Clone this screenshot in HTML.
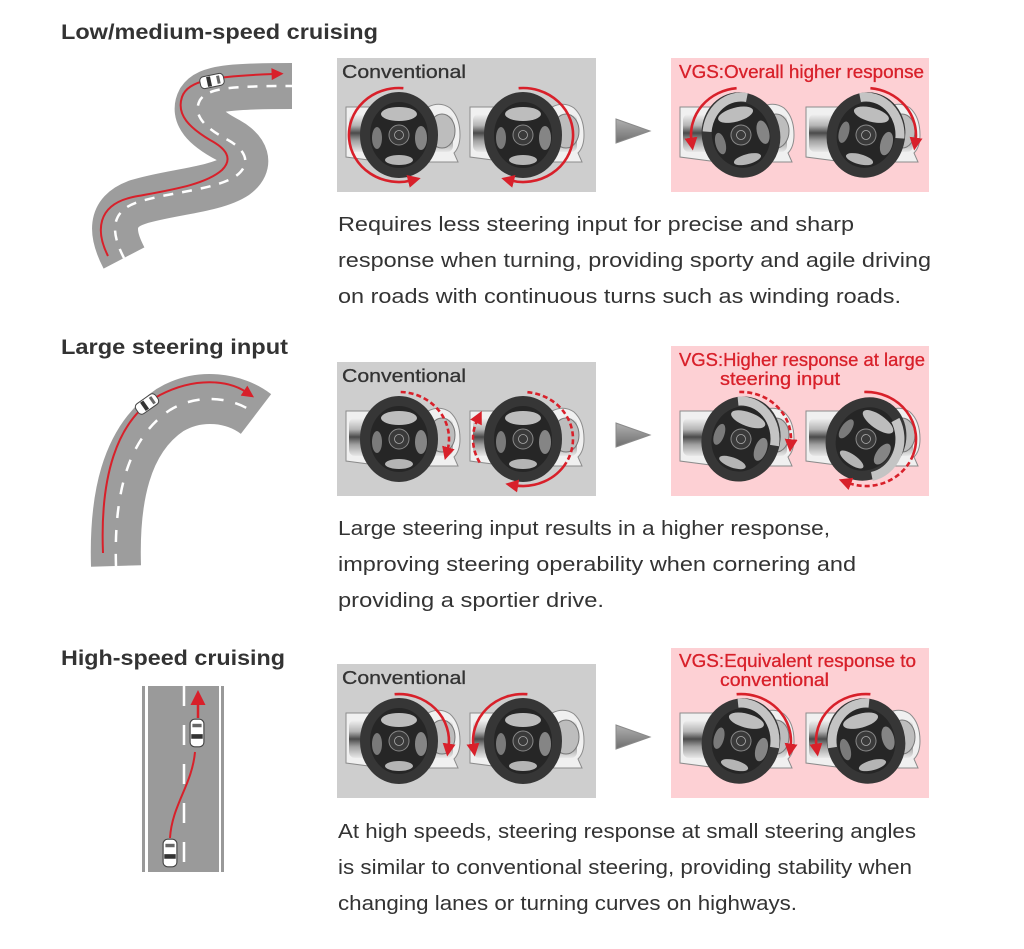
<!DOCTYPE html>
<html><head><meta charset="utf-8"><style>
html,body{margin:0;padding:0;background:#fff;}
svg{display:block;}
.t{font-family:"Liberation Sans",Arial,sans-serif;font-size:20px;fill:#333;}
.h{font-family:"Liberation Sans",Arial,sans-serif;font-size:21px;font-weight:bold;fill:#333;}
.l{font-family:"Liberation Sans",Arial,sans-serif;font-size:18px;fill:#333;stroke:#333;stroke-width:0.3;}
.r{font-family:"Liberation Sans",Arial,sans-serif;font-size:18px;fill:#d8202a;stroke:#d8202a;stroke-width:0.3;}
.ra{fill:none;stroke:#d8202a;stroke-width:2.6;marker-end:url(#ah);}
.rd{fill:none;stroke:#d8202a;stroke-width:2.6;stroke-dasharray:5 3;}
.gh{fill:none;stroke:#c4c4c4;stroke-width:9;}
</style></head><body>
<svg width="1024" height="949" viewBox="0 0 1024 949" xmlns="http://www.w3.org/2000/svg">
<defs>
<marker id="ah" viewBox="0 0 10 10" refX="3" refY="5" markerWidth="5" markerHeight="5" orient="auto" markerUnits="strokeWidth"><path d="M0,0 L10,5 L0,10 z" fill="#d8202a"/></marker>
<marker id="ah2" viewBox="0 0 10 10" refX="2" refY="5" markerWidth="7" markerHeight="6" orient="auto" markerUnits="strokeWidth"><path d="M0,0 L10,5 L0,10 z" fill="#d8202a"/></marker>
<linearGradient id="dg" x1="0" y1="0" x2="0" y2="1">
<stop offset="0" stop-color="#f2f2f2"/><stop offset="0.3" stop-color="#b5b5b5"/><stop offset="0.5" stop-color="#4a4a4a"/><stop offset="0.7" stop-color="#a0a0a0"/><stop offset="1" stop-color="#e8e8e8"/>
</linearGradient>
<linearGradient id="tg" x1="0" y1="0" x2="0" y2="1"><stop offset="0" stop-color="#b0b0b0"/><stop offset="1" stop-color="#6e6e6e"/></linearGradient>
<g id="dash">
<path d="M2 2 H84 Q96 -4 106 3 Q116 12 116 30 Q116 42 110 48 L114 57 H40 L2 52 Z" fill="#f0f0f0" stroke="#8c8c8c" stroke-width="1"/>
<rect x="5" y="9" width="104" height="38" rx="6" fill="url(#dg)"/>
<ellipse cx="98" cy="26" rx="13" ry="17" fill="#bdbdbd" stroke="#777" stroke-width="1"/>
</g>
<g id="wh">
<ellipse rx="31" ry="35" fill="#262626"/>
<ellipse cy="-21" rx="18" ry="7" fill="#bdbdbd"/>
<ellipse cx="-22" cy="3" rx="5" ry="11" fill="#7a7a7a"/>
<ellipse cx="22" cy="3" rx="6" ry="12" fill="#858585"/>
<ellipse cy="25" rx="14" ry="5" fill="#b5b5b5"/>
<circle r="10" fill="#3a3a3a" stroke="#888" stroke-width="1"/>
<circle r="4.5" fill="none" stroke="#aaa" stroke-width="0.8"/>
<ellipse rx="34" ry="38" fill="none" stroke="#363636" stroke-width="10"/>
</g>
<g id="car">
<rect x="-12" y="-6" width="24" height="12" rx="4" fill="#fff" stroke="#444" stroke-width="1"/>
<rect x="-5" y="-5" width="4" height="10" fill="#333"/>
<rect x="5" y="-4" width="3" height="8" fill="#666"/>
</g>
</defs>

<!-- Titles -->
<text class="h" x="61" y="39" textLength="317" lengthAdjust="spacingAndGlyphs">Low/medium-speed cruising</text>
<text class="h" x="61" y="354" textLength="227" lengthAdjust="spacingAndGlyphs">Large steering input</text>
<text class="h" x="61" y="665" textLength="224" lengthAdjust="spacingAndGlyphs">High-speed cruising</text>

<!-- Road 1 -->
<path d="M 124 258 C 112 235, 108 212, 138 202 C 170 192, 215 190, 236 176 C 252 164, 246 150, 228 140 C 205 128, 192 115, 200 100 C 208 88, 230 86, 292 86" fill="none" stroke="#9d9d9d" stroke-width="46"/>
<path d="M 124 258 C 112 235, 108 212, 138 202 C 170 192, 215 190, 236 176 C 252 164, 246 150, 228 140 C 205 128, 192 115, 200 100 C 208 88, 230 86, 292 86" fill="none" stroke="#fff" stroke-width="2.5" stroke-dasharray="10 9"/>
<path d="M 108 256 C 96 232, 96 205, 133 197 C 170 190, 205 185, 222 170 C 234 158, 225 148, 210 140 C 190 128, 176 115, 182 97 C 188 80, 215 76, 274 74" fill="none" stroke="#d8202a" stroke-width="2" marker-end="url(#ah2)"/>
<use href="#car" transform="translate(212 81) rotate(-12)"/>

<!-- Road 2 -->
<path d="M 116 566 C 114 500, 125 440, 170 410 C 200 392, 235 398, 256 414" fill="none" stroke="#9d9d9d" stroke-width="50"/>
<path d="M 116 566 C 114 500, 125 440, 170 410 C 200 392, 235 398, 256 414" fill="none" stroke="#fff" stroke-width="2.5" stroke-dasharray="12 12"/>
<path d="M 103 553 C 100 480, 115 420, 160 395 C 195 377, 228 380, 246 392" fill="none" stroke="#d8202a" stroke-width="2" marker-end="url(#ah2)"/>
<use href="#car" transform="translate(147 404) rotate(-35)"/>

<!-- Road 3 -->
<rect x="142" y="686" width="3" height="186" fill="#999"/>
<rect x="148" y="686" width="71" height="186" fill="#9a9a9a"/>
<rect x="221" y="686" width="3" height="186" fill="#999"/>
<line x1="184" y1="686" x2="184" y2="872" stroke="#fff" stroke-width="2.5" stroke-dasharray="20 19"/>
<path d="M 170 838 C 172 805, 192 785, 195 752" fill="none" stroke="#d8202a" stroke-width="2"/>
<line x1="198" y1="718" x2="198" y2="702" stroke="#d8202a" stroke-width="2.5" marker-end="url(#ah2)"/>
<use href="#car" transform="translate(197 733) rotate(-90) scale(1.15)"/>
<use href="#car" transform="translate(170 853) rotate(-90) scale(1.15)"/>

<!-- Row 1 -->
<rect x="337" y="58" width="259" height="134" fill="#cecece"/>
<rect x="671" y="58" width="258" height="134" fill="#fdd0d4"/>
<text class="l" x="342" y="78" textLength="124" lengthAdjust="spacingAndGlyphs">Conventional</text>
<text class="r" x="679" y="78" textLength="245" lengthAdjust="spacingAndGlyphs">VGS:Overall higher response</text>
<use href="#dash" x="344" y="105"/><use href="#dash" x="468" y="105"/>
<use href="#dash" x="678" y="105"/><use href="#dash" x="804" y="105"/>
<use href="#wh" x="399" y="135"/><use href="#wh" x="523" y="135"/>
<use href="#wh" transform="translate(741 135) rotate(-15)"/><use href="#wh" transform="translate(866 135) rotate(15)"/>
<path class="gh" d="M 707.1 131.7 A 34 38 0 0 1 746.9 97.6"/>
<path class="gh" d="M 860.1 97.6 A 34 38 0 0 1 899.9 138.3"/>
<path class="ra" d="M 403.4 88.2 A 50 47 0 1 0 411.9 180.4"/>
<path class="ra" d="M 518.6 88.2 A 50 47 0 1 1 510.1 180.4"/>
<path class="ra" d="M 736.6 88.2 A 50 47 0 0 0 691.5 141.5"/>
<path class="ra" d="M 870.4 88.2 A 50 47 0 0 1 915.5 141.5"/>
<polygon points="616,119 650,131 616,143" fill="url(#tg)" stroke="#8a8a8a" stroke-width="1"/>
<text class="t" x="338" y="231" textLength="516" lengthAdjust="spacingAndGlyphs">Requires less steering input for precise and sharp</text>
<text class="t" x="338" y="267" textLength="593" lengthAdjust="spacingAndGlyphs">response when turning, providing sporty and agile driving</text>
<text class="t" x="338" y="303" textLength="563" lengthAdjust="spacingAndGlyphs">on roads with continuous turns such as winding roads.</text>

<!-- Row 2 -->
<rect x="337" y="362" width="259" height="134" fill="#cecece"/>
<rect x="671" y="346" width="258" height="150" fill="#fdd0d4"/>
<text class="l" x="342" y="382" textLength="124" lengthAdjust="spacingAndGlyphs">Conventional</text>
<text class="r" x="679" y="366" textLength="246" lengthAdjust="spacingAndGlyphs">VGS:Higher response at large</text>
<text class="r" x="720" y="385" textLength="120" lengthAdjust="spacingAndGlyphs">steering input</text>
<use href="#dash" x="344" y="409"/><use href="#dash" x="468" y="409"/>
<use href="#dash" x="678" y="409"/><use href="#dash" x="804" y="409"/>
<use href="#wh" x="399" y="439"/><use href="#wh" x="523" y="439"/>
<use href="#wh" transform="translate(741 439) rotate(20)"/><use href="#wh" transform="translate(866 439) rotate(35)"/>
<path class="gh" d="M 738.0 401.1 A 34 38 0 0 1 774.5 445.6"/>
<path class="gh" d="M 895.4 420.0 A 34 38 0 0 1 871.9 476.4"/>
<path class="rd" d="M 400.7 392.0 A 50 47 0 0 1 447.3 451.2" marker-end="url(#ah)"/>
<path class="rd" d="M 527.4 392.2 A 50 47 0 0 1 566.3 462.5"/>
<path class="ra" d="M 566.3 462.5 A 50 47 0 0 1 514.3 485.3"/>
<path class="rd" d="M 479.7 462.5 A 50 47 0 0 1 477.7 419.1" marker-end="url(#ah)"/>
<path class="rd" d="M 739.3 392.0 A 50 47 0 0 1 790.8 443.1" marker-end="url(#ah)"/>
<path class="ra" d="M 864.3 392.0 A 50 47 0 0 1 913.0 455.1" style="marker-end:none"/>
<path class="rd" d="M 913.0 455.1 A 50 47 0 0 1 847.3 482.6" marker-end="url(#ah)"/>
<polygon points="616,423 650,435 616,447" fill="url(#tg)" stroke="#8a8a8a" stroke-width="1"/>
<text class="t" x="338" y="535" textLength="492" lengthAdjust="spacingAndGlyphs">Large steering input results in a higher response,</text>
<text class="t" x="338" y="571" textLength="518" lengthAdjust="spacingAndGlyphs">improving steering operability when cornering and</text>
<text class="t" x="338" y="607" textLength="266" lengthAdjust="spacingAndGlyphs">providing a sportier drive.</text>

<!-- Row 3 -->
<rect x="337" y="664" width="259" height="134" fill="#cecece"/>
<rect x="671" y="648" width="258" height="150" fill="#fdd0d4"/>
<text class="l" x="342" y="684" textLength="124" lengthAdjust="spacingAndGlyphs">Conventional</text>
<text class="r" x="679" y="667" textLength="237" lengthAdjust="spacingAndGlyphs">VGS:Equivalent response to</text>
<text class="r" x="720" y="686" textLength="109" lengthAdjust="spacingAndGlyphs">conventional</text>
<use href="#dash" x="344" y="711"/><use href="#dash" x="468" y="711"/>
<use href="#dash" x="678" y="711"/><use href="#dash" x="804" y="711"/>
<use href="#wh" x="399" y="741"/><use href="#wh" x="523" y="741"/>
<use href="#wh" transform="translate(741 741) rotate(15)"/><use href="#wh" transform="translate(866 741) rotate(-15)"/>
<path class="gh" d="M 738.0 703.1 A 34 38 0 0 1 774.5 747.6"/>
<path class="gh" d="M 869.0 703.1 A 34 38 0 0 0 832.5 747.6"/>
<path class="ra" d="M 394.6 694.2 A 50 47 0 0 1 448.5 747.5"/>
<path class="ra" d="M 527.4 694.2 A 50 47 0 0 0 473.5 747.5"/>
<path class="ra" d="M 736.6 694.2 A 50 47 0 0 1 790.5 747.5"/>
<path class="ra" d="M 870.4 694.2 A 50 47 0 0 0 816.5 747.5"/>
<polygon points="616,725 650,737 616,749" fill="url(#tg)" stroke="#8a8a8a" stroke-width="1"/>
<text class="t" x="338" y="838" textLength="578" lengthAdjust="spacingAndGlyphs">At high speeds, steering response at small steering angles</text>
<text class="t" x="338" y="874" textLength="574" lengthAdjust="spacingAndGlyphs">is similar to conventional steering, providing stability when</text>
<text class="t" x="338" y="910" textLength="459" lengthAdjust="spacingAndGlyphs">changing lanes or turning curves on highways.</text>
</svg>
</body></html>
